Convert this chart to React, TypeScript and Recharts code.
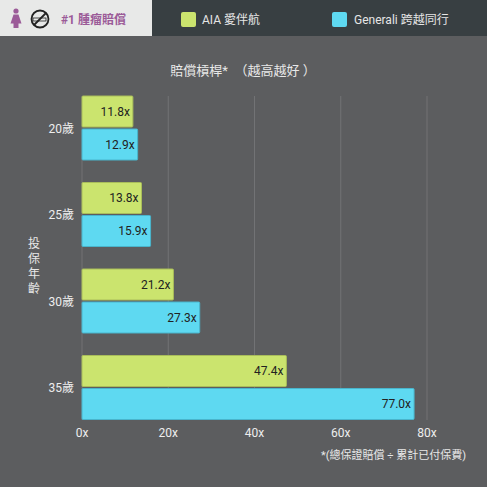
import * as React from "react"
import { BarChart, Bar, XAxis, YAxis, CartesianGrid, LabelList } from "recharts"

const ages = ["20歲", "25歲", "30歲", "35歲"]
const aiaValues = [11.8, 13.8, 21.2, 47.4]
const generaliValues = [12.9, 15.9, 27.3, 77.0]
const xTicks = [0, 20, 40, 60, 80]

const AIA_COLOR = "#cbe46e"
const GEN_COLOR = "#5ed9f1"
const BG = "#5c5d5f"
const FONT = "Roboto, 'Noto Sans CJK TC', sans-serif"

const data = ages.map((age, i) => ({
  age,
  aia: aiaValues[i],
  generali: generaliValues[i],
}))

function Header() {
  return (
    <svg width={487} height={40} style={{ position: "absolute", left: 0, top: 0 }}>
      <rect x={0} y={0} width={487} height={36} fill="#383f42" />
      <rect x={0} y={0} width={152} height={36} fill="#e8e9e8" />
      {/* female figure */}
      <circle cx={16} cy={11} r={2.6} fill="#9b5b98" />
      <path d="M13.5 14.5 h5 l3 9 h-3 v4.5 h-5 v-4.5 h-3 z" fill="#9b5b98" />
      {/* no smoking */}
      <circle cx={40} cy={19} r={8.5} fill="none" stroke="#222" strokeWidth={1.8} />
      <rect x={33} y={18} width={13} height={3} fill="none" stroke="#222" strokeWidth={0.8} />
      <line x1={34} y1={25} x2={46} y2={13} stroke="#222" strokeWidth={1.8} />
      <text x={61} y={24} fontSize={12} fontWeight={700} fill="#9b5b98" fontFamily={FONT}>
        #1 腫瘤賠償
      </text>
      <rect x={181} y={12} width={15} height={15} rx={2} fill={AIA_COLOR} />
      <text x={202} y={24} fontSize={12} fill="#e6e6e6" fontFamily={FONT}>
        AIA 愛伴航
      </text>
      <rect x={332} y={12} width={15} height={15} rx={2} fill={GEN_COLOR} />
      <text x={354} y={24} fontSize={12} fill="#e6e6e6" fontFamily={FONT}>
        Generali 跨越同行
      </text>
    </svg>
  )
}

export default function App() {
  return (
    <div
      style={{
        position: "absolute",
        left: 0,
        top: 0,
        width: 487,
        height: 487,
        background: BG,
        fontFamily: FONT,
      }}
    >
      <Header />
      <svg width={487} height={487} style={{ position: "absolute", left: 0, top: 0, pointerEvents: "none" }}>
        <text x={243} y={75} textAnchor="middle" fontSize={13} fill="#e8e8e8" fontFamily={FONT}>
          {"賠償槓桿*\u00a0\u00a0（越高越好\u00a0）"}
        </text>
        <text fontSize={12} fill="#e8e8e8" fontFamily={FONT} textAnchor="middle">
          {["投", "保", "年", "齡"].map((c, i) => (
            <tspan key={c} x={34} y={248 + i * 15}>
              {c}
            </tspan>
          ))}
        </text>
        <text x={466} y={459} textAnchor="end" fontSize={11} fill="#e8e8e8" fontFamily={FONT}>
          *(總保證賠償 ÷ 累計已付保費)
        </text>
      </svg>
      <div style={{ position: "absolute", left: 0, top: 0 }}>
        <BarChart
          width={487}
          height={487}
          data={data}
          layout="vertical"
          margin={{ top: 96, right: 60, bottom: 37, left: 42 }}
          barSize={31}
          barGap={2}
        >
          <CartesianGrid horizontal={false} stroke="#727375" strokeWidth={1} />
          <XAxis
            type="number"
            domain={[0, 80]}
            ticks={xTicks}
            tickFormatter={(v: number) => `${v}x`}
            axisLine={false}
            tickLine={false}
            height={30}
            tick={{ fill: "#eeeeee", fontSize: 12, fontFamily: FONT }}
          />
          <YAxis
            type="category"
            dataKey="age"
            width={40}
            axisLine={false}
            tickLine={false}
            padding={{ top: -11, bottom: -11 }}
            tick={{ fill: "#eeeeee", fontSize: 12, fontFamily: FONT }}
          />
          <Bar dataKey="aia" fill={AIA_COLOR} stroke="#a9bd5a" strokeWidth={1} radius={1} isAnimationActive={false}>
            <LabelList
              dataKey="aia"
              position="insideRight"
              offset={3}
              formatter={(v: number) => `${v.toFixed(1)}x`}
              style={{ fill: "#222", fontSize: 12, fontFamily: FONT }}
            />
          </Bar>
          <Bar dataKey="generali" fill={GEN_COLOR} stroke="#49b5cc" strokeWidth={1} radius={1} isAnimationActive={false}>
            <LabelList
              dataKey="generali"
              position="insideRight"
              offset={3}
              formatter={(v: number) => `${v.toFixed(1)}x`}
              style={{ fill: "#222", fontSize: 12, fontFamily: FONT }}
            />
          </Bar>
        </BarChart>
      </div>
    </div>
  )
}
